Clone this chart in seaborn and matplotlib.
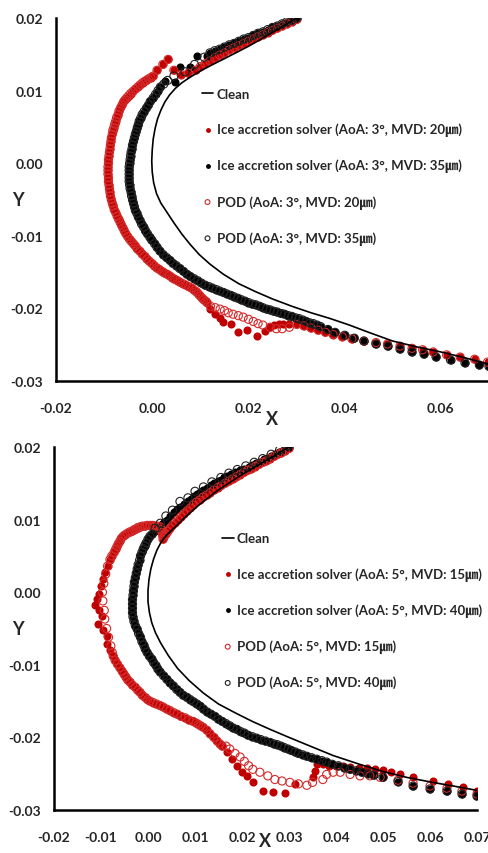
import pandas as pd
import seaborn as sns
import matplotlib.pyplot as plt
from matplotlib.ticker import MultipleLocator, FormatStrFormatter

# ---------------- data ----------------
# top panel, AoA 3 deg
top_clean = [(0.0300, 0.0200), (0.0250, 0.0180), (0.0200, 0.0161), (0.0150, 0.0144), (0.0120, 0.0134),
             (0.0100, 0.0127), (0.0080, 0.0119), (0.0062, 0.0111), (0.0048, 0.0103), (0.0036, 0.0094),
             (0.0026, 0.0084), (0.0018, 0.0073), (0.0011, 0.0061), (0.0006, 0.0048), (0.0002, 0.0033),
             (0.0000, 0.0018), (-0.0001, 0.0003), (0.0000, -0.0012), (0.0003, -0.0027), (0.0009, -0.0042),
             (0.0018, -0.0055), (0.0031, -0.0068), (0.0046, -0.0083), (0.0062, -0.0098), (0.0079, -0.0112),
             (0.0098, -0.0126), (0.0120, -0.0139), (0.0148, -0.0153), (0.0180, -0.0166), (0.0215, -0.0177),
             (0.0250, -0.0187), (0.0290, -0.0197), (0.0330, -0.0206), (0.0370, -0.0214), (0.0410, -0.0223),
             (0.0450, -0.0233), (0.0500, -0.0245), (0.0550, -0.0253), (0.0600, -0.0260), (0.0650, -0.0268),
             (0.0700, -0.0277)]

top_ice20_front = [(0.0300, 0.0198), (0.0290, 0.0195), (0.0280, 0.0192), (0.0270, 0.0189), (0.0260, 0.0186),
                   (0.0250, 0.0183), (0.0240, 0.0180), (0.0230, 0.0177), (0.0220, 0.0174), (0.0210, 0.0171),
                   (0.0200, 0.0168), (0.0190, 0.0165), (0.0180, 0.0162), (0.0170, 0.0159), (0.0160, 0.0156),
                   (0.0150, 0.0152), (0.0140, 0.0149), (0.0130, 0.0145), (0.0120, 0.0141), (0.0110, 0.0137),
                   (0.0100, 0.0133), (0.0090, 0.0128), (0.0075, 0.0124), (0.0060, 0.0122), (0.0045, 0.0128),
                   (0.0033, 0.0143), (0.0022, 0.0136), (0.0010, 0.0128), (0.0002, 0.0120), (-0.0003, 0.0118),
                   (-0.0008, 0.0116), (-0.0012, 0.0114), (-0.0015, 0.0113), (-0.0020, 0.0111), (-0.0025, 0.0108),
                   (-0.0030, 0.0105), (-0.0035, 0.0102), (-0.0040, 0.0099), (-0.0045, 0.0096), (-0.0049, 0.0093),
                   (-0.0053, 0.0090), (-0.0057, 0.0087), (-0.0060, 0.0084), (-0.0063, 0.0080), (-0.0066, 0.0076),
                   (-0.0069, 0.0072), (-0.0071, 0.0067), (-0.0074, 0.0063), (-0.0076, 0.0058), (-0.0078, 0.0054),
                   (-0.0080, 0.0049), (-0.0082, 0.0045), (-0.0083, 0.0040), (-0.0085, 0.0035), (-0.0086, 0.0030),
                   (-0.0087, 0.0025), (-0.0088, 0.0020), (-0.0089, 0.0015), (-0.0090, 0.0010), (-0.0091, 0.0005),
                   (-0.0091, 0.0000), (-0.0092, -0.0005), (-0.0092, -0.0010), (-0.0092, -0.0015), (-0.0091, -0.0020),
                   (-0.0091, -0.0025), (-0.0090, -0.0030), (-0.0089, -0.0035), (-0.0088, -0.0040), (-0.0087, -0.0045),
                   (-0.0085, -0.0050), (-0.0083, -0.0055), (-0.0081, -0.0059), (-0.0079, -0.0064), (-0.0076, -0.0068),
                   (-0.0073, -0.0073), (-0.0070, -0.0077), (-0.0067, -0.0081), (-0.0064, -0.0085), (-0.0061, -0.0089),
                   (-0.0058, -0.0093), (-0.0055, -0.0097), (-0.0051, -0.0101), (-0.0047, -0.0105), (-0.0043, -0.0108),
                   (-0.0039, -0.0111), (-0.0035, -0.0114), (-0.0031, -0.0118), (-0.0026, -0.0121), (-0.0021, -0.0125),
                   (-0.0016, -0.0128), (-0.0011, -0.0132), (-0.0006, -0.0135), (-0.0001, -0.0138), (0.0004, -0.0141),
                   (0.0009, -0.0144), (0.0014, -0.0146), (0.0020, -0.0149), (0.0025, -0.0151), (0.0031, -0.0153),
                   (0.0036, -0.0155), (0.0042, -0.0158), (0.0047, -0.0160), (0.0053, -0.0162), (0.0058, -0.0164),
                   (0.0064, -0.0166), (0.0070, -0.0168), (0.0076, -0.0170), (0.0082, -0.0172), (0.0087, -0.0175),
                   (0.0092, -0.0177), (0.0096, -0.0180), (0.0100, -0.0183), (0.0104, -0.0186), (0.0107, -0.0188),
                   (0.0111, -0.0190), (0.0114, -0.0192)]
top_ice20_tail = [(0.0121, -0.0201), (0.0131, -0.0208), (0.0140, -0.0213), (0.0148, -0.0219), (0.0163, -0.0222),
                  (0.0179, -0.0233), (0.0197, -0.0230), (0.0218, -0.0238), (0.0235, -0.0231), (0.0245, -0.0226),
                  (0.0254, -0.0223), (0.0263, -0.0222), (0.0272, -0.0222), (0.0285, -0.0221)]
top_pod20_tail = [(0.0121, -0.0197), (0.0131, -0.0199), (0.0141, -0.0201), (0.0150, -0.0203), (0.0158, -0.0206),
                  (0.0168, -0.0208), (0.0179, -0.0210), (0.0189, -0.0212), (0.0200, -0.0215), (0.0210, -0.0218),
                  (0.0220, -0.0221), (0.0230, -0.0223), (0.0245, -0.0226), (0.0258, -0.0228), (0.0270, -0.0228),
                  (0.0285, -0.0226)]
top_ice20_aft = [(0.0300, -0.0222), (0.0315, -0.0224), (0.0330, -0.0227), (0.0345, -0.0230), (0.0360, -0.0233),
                 (0.0376, -0.0236), (0.0395, -0.0239), (0.0415, -0.0242), (0.0440, -0.0245), (0.0465, -0.0247),
                 (0.0489, -0.0249), (0.0515, -0.0252), (0.0540, -0.0255), (0.0562, -0.0257), (0.0584, -0.0260),
                 (0.0612, -0.0264), (0.0640, -0.0267), (0.0670, -0.0270), (0.0697, -0.0274)]

top_ice35_upper = [(0.0300, 0.0200), (0.0290, 0.0197), (0.0280, 0.0195), (0.0270, 0.0192), (0.0260, 0.0189),
                   (0.0250, 0.0187), (0.0240, 0.0184), (0.0230, 0.0181), (0.0220, 0.0179), (0.0210, 0.0176),
                   (0.0200, 0.0173), (0.0190, 0.0171), (0.0180, 0.0168), (0.0170, 0.0165), (0.0160, 0.0163),
                   (0.0150, 0.0160), (0.0140, 0.0157), (0.0130, 0.0155), (0.0120, 0.0152)]
top_ice35_lead = [(0.0114, 0.0147), (0.0094, 0.0147), (0.0079, 0.0132), (0.0058, 0.0132), (0.0048, 0.0112),
                  (0.0027, 0.0113)]
top_pod35_lead = [(0.0108, 0.0146), (0.0088, 0.0136), (0.0068, 0.0126), (0.0045, 0.0120), (0.0032, 0.0114),
                  (0.0024, 0.0109)]
top_ice35_main = [(0.0017, 0.0105), (0.0012, 0.0100), (0.0007, 0.0095), (0.0002, 0.0090), (-0.0004, 0.0085),
                  (-0.0008, 0.0080), (-0.0012, 0.0076), (-0.0017, 0.0071), (-0.0021, 0.0067), (-0.0024, 0.0062),
                  (-0.0027, 0.0058), (-0.0029, 0.0053), (-0.0031, 0.0049), (-0.0033, 0.0044), (-0.0035, 0.0040),
                  (-0.0037, 0.0035), (-0.0039, 0.0030), (-0.0041, 0.0025), (-0.0042, 0.0020), (-0.0044, 0.0015),
                  (-0.0045, 0.0010), (-0.0046, 0.0005), (-0.0047, 0.0000), (-0.0048, -0.0005), (-0.0048, -0.0010),
                  (-0.0048, -0.0015), (-0.0048, -0.0020), (-0.0048, -0.0025), (-0.0047, -0.0030), (-0.0046, -0.0035),
                  (-0.0044, -0.0040), (-0.0043, -0.0045), (-0.0041, -0.0050), (-0.0039, -0.0055), (-0.0037, -0.0060),
                  (-0.0035, -0.0065), (-0.0032, -0.0069), (-0.0029, -0.0074), (-0.0025, -0.0079), (-0.0022, -0.0084),
                  (-0.0018, -0.0088), (-0.0014, -0.0093), (-0.0010, -0.0097), (-0.0005, -0.0102), (-0.0001, -0.0106),
                  (0.0005, -0.0111), (0.0010, -0.0116), (0.0016, -0.0121), (0.0023, -0.0126), (0.0030, -0.0130),
                  (0.0037, -0.0134), (0.0043, -0.0138), (0.0050, -0.0141), (0.0057, -0.0145), (0.0065, -0.0149),
                  (0.0072, -0.0153), (0.0079, -0.0156), (0.0087, -0.0159), (0.0095, -0.0162), (0.0102, -0.0165),
                  (0.0110, -0.0168), (0.0118, -0.0170), (0.0125, -0.0172), (0.0133, -0.0174), (0.0140, -0.0176),
                  (0.0148, -0.0178), (0.0155, -0.0180), (0.0163, -0.0182), (0.0170, -0.0184), (0.0178, -0.0186),
                  (0.0185, -0.0188), (0.0193, -0.0190), (0.0200, -0.0192), (0.0208, -0.0194), (0.0215, -0.0195),
                  (0.0223, -0.0197), (0.0230, -0.0199), (0.0238, -0.0201), (0.0245, -0.0202), (0.0253, -0.0204),
                  (0.0260, -0.0205), (0.0268, -0.0207), (0.0275, -0.0208), (0.0283, -0.0210), (0.0290, -0.0211),
                  (0.0298, -0.0213), (0.0305, -0.0214), (0.0313, -0.0216), (0.0320, -0.0218), (0.0328, -0.0220),
                  (0.0335, -0.0221), (0.0343, -0.0223), (0.0350, -0.0225), (0.0365, -0.0229), (0.0380, -0.0233),
                  (0.0400, -0.0237), (0.0420, -0.0241), (0.0440, -0.0245), (0.0465, -0.0249), (0.0490, -0.0252),
                  (0.0515, -0.0256), (0.0540, -0.0260), (0.0565, -0.0263), (0.0590, -0.0267), (0.0620, -0.0271),
                  (0.0650, -0.0275), (0.0680, -0.0278), (0.0700, -0.0280)]

# bottom panel, AoA 5 deg
bot_clean = [(0.0300, 0.0200), (0.0250, 0.0181), (0.0200, 0.0162), (0.0150, 0.0141), (0.0110, 0.0121),
             (0.0080, 0.0104), (0.0058, 0.0090), (0.0040, 0.0079), (0.0028, 0.0069), (0.0019, 0.0058),
             (0.0012, 0.0046), (0.0006, 0.0032), (0.0002, 0.0017), (0.0000, 0.0002), (0.0000, -0.0013),
             (0.0003, -0.0028), (0.0008, -0.0042), (0.0016, -0.0056), (0.0027, -0.0070), (0.0043, -0.0087),
             (0.0063, -0.0105), (0.0088, -0.0122), (0.0118, -0.0139), (0.0150, -0.0154), (0.0185, -0.0166),
             (0.0222, -0.0178), (0.0260, -0.0189), (0.0300, -0.0200), (0.0345, -0.0212), (0.0394, -0.0225),
             (0.0450, -0.0237), (0.0500, -0.0247), (0.0550, -0.0255), (0.0606, -0.0262), (0.0650, -0.0267),
             (0.0700, -0.0273)]

bot_ice15_upper = [(0.0300, 0.0198), (0.0292, 0.0195), (0.0284, 0.0192), (0.0276, 0.0190), (0.0268, 0.0187),
                   (0.0260, 0.0184), (0.0252, 0.0181), (0.0244, 0.0179), (0.0236, 0.0176), (0.0228, 0.0173),
                   (0.0220, 0.0170), (0.0212, 0.0168), (0.0204, 0.0165), (0.0196, 0.0162), (0.0188, 0.0159),
                   (0.0180, 0.0156), (0.0172, 0.0153), (0.0164, 0.0150), (0.0156, 0.0147), (0.0148, 0.0144),
                   (0.0140, 0.0141), (0.0132, 0.0137), (0.0125, 0.0134), (0.0117, 0.0131), (0.0110, 0.0127),
                   (0.0103, 0.0124), (0.0096, 0.0120), (0.0090, 0.0116), (0.0083, 0.0112), (0.0076, 0.0108),
                   (0.0070, 0.0104), (0.0064, 0.0100), (0.0058, 0.0096), (0.0052, 0.0092), (0.0047, 0.0088),
                   (0.0042, 0.0084), (0.0038, 0.0080), (0.0035, 0.0077), (0.0032, 0.0073), (0.0031, 0.0078),
                   (0.0030, 0.0082), (0.0028, 0.0086), (0.0026, 0.0090), (0.0020, 0.0091), (0.0015, 0.0091),
                   (0.0010, 0.0092), (0.0004, 0.0092), (-0.0002, 0.0092), (-0.0007, 0.0091), (-0.0012, 0.0091),
                   (-0.0017, 0.0090), (-0.0022, 0.0089), (-0.0026, 0.0087), (-0.0030, 0.0086), (-0.0034, 0.0084),
                   (-0.0039, 0.0083), (-0.0044, 0.0081), (-0.0049, 0.0079), (-0.0053, 0.0077), (-0.0057, 0.0074),
                   (-0.0060, 0.0070), (-0.0063, 0.0067), (-0.0066, 0.0063), (-0.0069, 0.0059), (-0.0072, 0.0055),
                   (-0.0077, 0.0050), (-0.0081, 0.0045)]
bot_ice15_horn = [(-0.0086, 0.0036), (-0.0091, 0.0028), (-0.0096, 0.0018), (-0.0100, 0.0008), (-0.0104, -0.0002),
                  (-0.0109, -0.0010), (-0.0113, -0.0017), (-0.0105, -0.0024), (-0.0098, -0.0033), (-0.0106, -0.0044),
                  (-0.0095, -0.0052), (-0.0087, -0.0060), (-0.0087, -0.0072), (-0.0080, -0.0080)]
bot_pod15_horn = [(-0.0086, 0.0036), (-0.0090, 0.0025), (-0.0094, 0.0012), (-0.0097, 0.0000), (-0.0096, -0.0012),
                  (-0.0093, -0.0025), (-0.0092, -0.0037), (-0.0088, -0.0050), (-0.0084, -0.0062), (-0.0079, -0.0074),
                  (-0.0076, -0.0083)]
bot_ice15_mid = [(-0.0074, -0.0088), (-0.0070, -0.0094), (-0.0065, -0.0099), (-0.0060, -0.0104), (-0.0055, -0.0109),
                 (-0.0051, -0.0113), (-0.0047, -0.0117), (-0.0043, -0.0121), (-0.0038, -0.0124), (-0.0033, -0.0128),
                 (-0.0027, -0.0131), (-0.0022, -0.0135), (-0.0017, -0.0138), (-0.0012, -0.0142), (-0.0006, -0.0145),
                 (-0.0001, -0.0148), (0.0004, -0.0150), (0.0011, -0.0152), (0.0018, -0.0154), (0.0025, -0.0156),
                 (0.0032, -0.0158), (0.0040, -0.0161), (0.0047, -0.0163), (0.0055, -0.0166), (0.0062, -0.0168),
                 (0.0070, -0.0171), (0.0079, -0.0173), (0.0087, -0.0176), (0.0096, -0.0178), (0.0102, -0.0180),
                 (0.0107, -0.0182), (0.0112, -0.0184), (0.0117, -0.0186), (0.0125, -0.0190), (0.0132, -0.0195),
                 (0.0140, -0.0200), (0.0147, -0.0205), (0.0153, -0.0209), (0.0158, -0.0212)]
bot_ice15_tail = [(0.0168, -0.0220), (0.0179, -0.0230), (0.0189, -0.0240), (0.0200, -0.0247), (0.0210, -0.0253),
                  (0.0223, -0.0262), (0.0245, -0.0274), (0.0266, -0.0275), (0.0291, -0.0277), (0.0313, -0.0264),
                  (0.0351, -0.0255), (0.0355, -0.0246), (0.0360, -0.0237), (0.0372, -0.0237), (0.0385, -0.0239),
                  (0.0400, -0.0240), (0.0415, -0.0240), (0.0430, -0.0241), (0.0448, -0.0242), (0.0466, -0.0242),
                  (0.0483, -0.0243), (0.0500, -0.0245), (0.0518, -0.0248), (0.0536, -0.0251), (0.0564, -0.0255),
                  (0.0606, -0.0260), (0.0638, -0.0264), (0.0670, -0.0269), (0.0700, -0.0274)]
bot_pod15_tail = [(0.0166, -0.0212), (0.0174, -0.0216), (0.0185, -0.0222), (0.0196, -0.0227), (0.0205, -0.0233),
                  (0.0214, -0.0239), (0.0223, -0.0244), (0.0238, -0.0248), (0.0255, -0.0253), (0.0270, -0.0258),
                  (0.0285, -0.0260), (0.0302, -0.0262), (0.0320, -0.0264), (0.0338, -0.0266), (0.0350, -0.0262),
                  (0.0372, -0.0258), (0.0380, -0.0251), (0.0394, -0.0248), (0.0409, -0.0248), (0.0430, -0.0251),
                  (0.0451, -0.0253), (0.0472, -0.0253), (0.0494, -0.0255), (0.0532, -0.0259), (0.0564, -0.0263),
                  (0.0600, -0.0267), (0.0636, -0.0270), (0.0668, -0.0274), (0.0700, -0.0278)]

bot_ice40_upper = [(0.0300, 0.0200), (0.0292, 0.0198), (0.0285, 0.0195), (0.0278, 0.0193), (0.0270, 0.0190),
                   (0.0262, 0.0188), (0.0254, 0.0185), (0.0246, 0.0183), (0.0238, 0.0180), (0.0230, 0.0178),
                   (0.0222, 0.0175), (0.0214, 0.0173), (0.0205, 0.0170), (0.0195, 0.0168), (0.0185, 0.0165),
                   (0.0177, 0.0163), (0.0168, 0.0160), (0.0161, 0.0158), (0.0155, 0.0155), (0.0148, 0.0153),
                   (0.0140, 0.0150), (0.0133, 0.0147), (0.0125, 0.0144), (0.0118, 0.0141), (0.0111, 0.0138),
                   (0.0104, 0.0135), (0.0098, 0.0132), (0.0091, 0.0129), (0.0085, 0.0126), (0.0076, 0.0122),
                   (0.0068, 0.0118), (0.0061, 0.0114), (0.0055, 0.0110), (0.0047, 0.0105), (0.0040, 0.0100),
                   (0.0035, 0.0097), (0.0030, 0.0094), (0.0024, 0.0090), (0.0019, 0.0087), (0.0014, 0.0084)]
bot_pod40_upper = [(0.0300, 0.0202), (0.0280, 0.0196), (0.0262, 0.0190), (0.0244, 0.0184), (0.0226, 0.0179),
                   (0.0208, 0.0174), (0.0190, 0.0169), (0.0172, 0.0164), (0.0155, 0.0158), (0.0136, 0.0152),
                   (0.0118, 0.0145), (0.0100, 0.0139), (0.0085, 0.0130), (0.0068, 0.0125), (0.0052, 0.0113),
                   (0.0038, 0.0105), (0.0026, 0.0095), (0.0015, 0.0088)]
bot_ice40_main = [(0.0009, 0.0080), (0.0004, 0.0077), (0.0000, 0.0073), (-0.0004, 0.0068), (-0.0007, 0.0064),
                  (-0.0010, 0.0060), (-0.0013, 0.0055), (-0.0016, 0.0050), (-0.0018, 0.0044), (-0.0021, 0.0038),
                  (-0.0023, 0.0032), (-0.0025, 0.0026), (-0.0027, 0.0020), (-0.0029, 0.0014), (-0.0030, 0.0008),
                  (-0.0031, 0.0002), (-0.0032, -0.0004), (-0.0033, -0.0010), (-0.0033, -0.0016), (-0.0033, -0.0022),
                  (-0.0033, -0.0028), (-0.0032, -0.0034), (-0.0030, -0.0040), (-0.0027, -0.0046), (-0.0023, -0.0051),
                  (-0.0020, -0.0057), (-0.0016, -0.0062), (-0.0013, -0.0068), (-0.0009, -0.0073), (-0.0006, -0.0078),
                  (-0.0002, -0.0083), (0.0003, -0.0088), (0.0008, -0.0092), (0.0012, -0.0097), (0.0017, -0.0101),
                  (0.0021, -0.0106), (0.0026, -0.0110), (0.0033, -0.0115), (0.0040, -0.0120), (0.0047, -0.0125),
                  (0.0054, -0.0129), (0.0061, -0.0134), (0.0068, -0.0138), (0.0075, -0.0142), (0.0083, -0.0145),
                  (0.0090, -0.0148), (0.0097, -0.0151), (0.0104, -0.0154), (0.0111, -0.0157), (0.0118, -0.0161),
                  (0.0126, -0.0165), (0.0134, -0.0168), (0.0142, -0.0171), (0.0150, -0.0175), (0.0158, -0.0178),
                  (0.0166, -0.0181), (0.0174, -0.0184), (0.0181, -0.0187), (0.0189, -0.0189), (0.0197, -0.0192),
                  (0.0205, -0.0194), (0.0213, -0.0197), (0.0222, -0.0199), (0.0231, -0.0201), (0.0240, -0.0203),
                  (0.0250, -0.0205), (0.0260, -0.0207), (0.0268, -0.0209), (0.0275, -0.0210), (0.0283, -0.0212),
                  (0.0290, -0.0214), (0.0298, -0.0216), (0.0305, -0.0218), (0.0313, -0.0220), (0.0320, -0.0222),
                  (0.0329, -0.0224), (0.0338, -0.0226), (0.0348, -0.0228), (0.0359, -0.0230), (0.0370, -0.0232),
                  (0.0380, -0.0234), (0.0392, -0.0237), (0.0405, -0.0239), (0.0418, -0.0242), (0.0430, -0.0244),
                  (0.0443, -0.0246), (0.0455, -0.0248), (0.0468, -0.0250), (0.0480, -0.0252), (0.0500, -0.0255),
                  (0.0532, -0.0261), (0.0564, -0.0267), (0.0600, -0.0271), (0.0636, -0.0274), (0.0668, -0.0278),
                  (0.0700, -0.0281)]

top_labels = ["Clean",
              "Ice accretion solver (AoA: 3°, MVD: 20㎛)",
              "Ice accretion solver (AoA: 3°, MVD: 35㎛)",
              "POD (AoA: 3°, MVD: 20㎛)",
              "POD (AoA: 3°, MVD: 35㎛)"]
bot_labels = ["Clean",
              "Ice accretion solver (AoA: 5°, MVD: 15㎛)",
              "Ice accretion solver (AoA: 5°, MVD: 40㎛)",
              "POD (AoA: 5°, MVD: 15㎛)",
              "POD (AoA: 5°, MVD: 40㎛)"]

RED = "#c00000"

sns.set_theme(style="white")
plt.rcParams["font.family"] = ["Lato", "Noto Sans CJK KR", "DejaVu Sans"]
plt.rcParams["font.weight"] = "bold"


def frame(pts):
    return pd.DataFrame(pts, columns=["x", "y"])


def panel(ax, clean, ice_a, ice_b, pod_a, pod_b, labels, xstep, leg_xy, xlab_y, ylab_x):
    sns.lineplot(data=frame(clean), x="x", y="y", sort=False, estimator=None,
                 color="black", lw=1.2, ax=ax, label=labels[0])
    sns.scatterplot(data=frame(ice_a), x="x", y="y", color=RED, s=34, linewidth=0, ax=ax, label=labels[1])
    sns.scatterplot(data=frame(ice_b), x="x", y="y", color="black", s=34, linewidth=0, ax=ax, label=labels[2])
    sns.scatterplot(data=frame(pod_a), x="x", y="y", facecolor="none", edgecolor="#d42a2a",
                    s=34, linewidth=0.8, ax=ax, label=labels[3])
    sns.scatterplot(data=frame(pod_b), x="x", y="y", facecolor="none", edgecolor="#222222",
                    s=34, linewidth=0.8, ax=ax, label=labels[4])

    ax.set_xlim(-0.02, 0.07)
    ax.set_ylim(-0.03, 0.02)
    ax.xaxis.set_major_locator(MultipleLocator(xstep))
    ax.yaxis.set_major_locator(MultipleLocator(0.01))
    ax.xaxis.set_major_formatter(FormatStrFormatter("%.2f"))
    ax.yaxis.set_major_formatter(FormatStrFormatter("%.2f"))
    ax.tick_params(axis="x", direction="in", length=4, width=1.5, pad=15, labelsize=10)
    ax.tick_params(axis="y", direction="inout", length=5, width=1.5, pad=7, labelsize=10)
    for side in ["top", "right"]:
        ax.spines[side].set_visible(False)
    for side in ["left", "bottom"]:
        ax.spines[side].set_linewidth(1.8)
        ax.spines[side].set_color("black")

    ax.set_xlabel("X", fontsize=13, fontweight="bold", va="center")
    ax.set_ylabel("Y", fontsize=13, fontweight="bold", rotation=0, va="center", ha="center")
    ax.xaxis.set_label_coords(0.5, xlab_y)
    ax.yaxis.set_label_coords(ylab_x, 0.5)

    ax.legend(loc="upper left", bbox_to_anchor=leg_xy, frameon=False, fontsize=9.5,
              labelspacing=1.72, handlelength=0.9, handletextpad=0.25, borderpad=0,
              markerscale=0.6)


fig = plt.figure(figsize=(4.89, 8.54), dpi=100)
ax1 = fig.add_axes([56 / 489, 1 - 382 / 854, 433 / 489, 363 / 854])
ax2 = fig.add_axes([54 / 489, 1 - 811 / 854, 423 / 489, 363 / 854])

panel(ax1, top_clean,
      top_ice20_front + top_ice20_tail + top_ice20_aft,
      top_ice35_upper + top_ice35_lead + top_ice35_main,
      top_ice20_front + top_pod20_tail + top_ice20_aft,
      top_ice35_upper + top_pod35_lead + top_ice35_main,
      top_labels, 0.02, (0.321, 0.826), -0.102, -0.088)

panel(ax2, bot_clean,
      bot_ice15_upper + bot_ice15_horn + bot_ice15_mid + bot_ice15_tail,
      bot_ice40_upper + bot_ice40_main,
      bot_ice15_upper + bot_pod15_horn + bot_ice15_mid + bot_pod15_tail,
      bot_pod40_upper + bot_ice40_main,
      bot_labels, 0.01, (0.381, 0.783), -0.085, -0.085)

fig.savefig("out.png", dpi=100)
